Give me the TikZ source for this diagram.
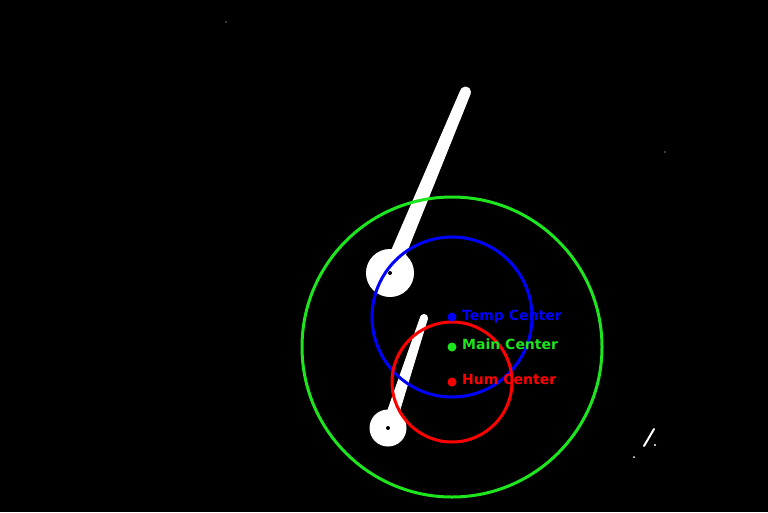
\documentclass[tikz,border=0pt]{standalone}
\usepackage{fontspec}
\setmainfont{DejaVu Sans}
\definecolor{maingreen}{RGB}{30,230,30}
\tikzset{%
  % Specifications for style of shapes:
        ring/.style = {draw, line width=3pt},
      bluering/.style = {ring, draw=blue},
      greenring/.style = {ring, draw=maingreen},
      redring/.style = {ring, draw=red},
       needle/.style = {fill=white, draw=white, line width=1pt, line join=round},
       label/.style = {anchor=base west, inner sep=0pt, font=\fontsize{14}{14}\selectfont\bfseries},
}
\begin{document}
\begin{tikzpicture}[x=1pt, y=-1pt]
  % background and frame
  \fill[black] (0,0) rectangle (768,512);
  \useasboundingbox (0,0) rectangle (768,512);

  % Specification of centers
  \coordinate (maincenter) at (452,347);
  \coordinate (tempcenter) at (452,317);
  \coordinate (humcenter)  at (452,382);
  \coordinate (upperhub)   at (390,273);
  \coordinate (lowerhub)   at (388,428);
  \coordinate (uppertip)   at (465.5,92);
  \coordinate (lowertip)   at (424,318);

  % needles
  \fill[needle] (upperhub) circle (23.5);
  \filldraw[needle] (383.1,270.2) -- (396.9,275.9) -- (470.1,93.9) -- (460.9,90.1) -- cycle;
  \fill[needle] (uppertip) circle (5);
  \fill[needle] (lowerhub) circle (18);
  \filldraw[needle] (382.3,426.1) -- (393.7,429.9) -- (427.3,319.1) -- (420.7,316.9) -- cycle;
  \fill[needle] (lowertip) circle (3.5);
  \fill[black] (upperhub) circle (2);
  \fill[black] (lowerhub) circle (2);

  % circles
  \draw[greenring] (maincenter) circle (150);
  \draw[bluering]  (tempcenter) circle (80);
  \draw[redring]   (humcenter)  circle (60);

  % center marks and labels
  \fill[blue] (tempcenter) circle (4.5);
  \fill[maingreen] (maincenter) circle (4.5);
  \fill[red] (humcenter) circle (4.5);
  \node (templabel) [label, text=blue] at (462,320) {Temp Center};
  \node (mainlabel) [label, text=maingreen] at (462,349) {Main Center};
  \node (humlabel)  [label, text=red] at (462,384) {Hum Center};

  % specks
  \draw[white, line width=2pt, line cap=round] (644,446) -- (654,429);
  \fill[white] (634,457) circle (1);
  \fill[white] (655,445) circle (1.2);
  \fill[white] (226,22) circle (0.6);
  \fill[white] (665,152) circle (0.6);
\end{tikzpicture}
\end{document}
